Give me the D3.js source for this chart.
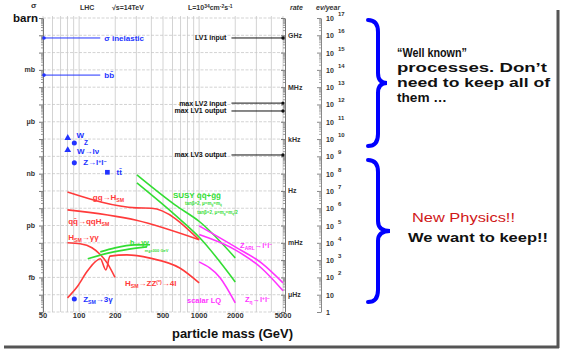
<!DOCTYPE html>
<html>
<head>
<meta charset="utf-8">
<script src="https://cdn.jsdelivr.net/npm/d3@7"></script>
<style>
  body { margin: 0; background: #fff; }
  svg text { font-family: "Liberation Sans", Arial, sans-serif; }
</style>
</head>
<body>
<svg id="chart" width="563" height="351"></svg>
<script>
// x: particle mass (GeV), y: cross-section (barn)
const massTicks = [50, 100, 200, 500, 1000, 2000, 5000];
const massGrid = [50, 60, 70, 80, 90, 100, 200, 300, 400, 500, 600, 700, 800, 900, 1000, 2000, 3000, 4000, 5000];
const sigmaUnits = ["barn", "mb", "μb", "nb", "pb", "fb"];
const sigmaUnitValues = [1, 1e-3, 1e-6, 1e-9, 1e-12, 1e-15];
const rateUnits = ["GHz", "MHz", "kHz", "Hz", "mHz", "μHz"];
const rateUnitValues = [1e9, 1e6, 1e3, 1, 1e-3, 1e-6];
const eventExponents = d3.range(0, 18);

// trigger levels, rate in Hz
const triggerNames = ["LV1 input", "max LV2 input", "max LV1 output", "max LV3 output"];
const triggerRates = [7e8, 1.2e5, 4.2e4, 1.2e2];

// inclusive cross-sections (blue guide lines)
const inclusiveNames = ["σ inelastic", "bb̄"];
const inclusiveSigma = [0.07, 5e-4];
const inclusiveMass = [50, 150];

// SM processes (blue markers)
const pointNames = ["W", "Z", "W→lν", "Z→l⁺l⁻", "tt̄", "Z_SM→3γ"];
const pointMass = [80.4, 91.2, 80.4, 91.2, 172, 91.2];
const pointSigma = [1.15e-7, 5.9e-8, 2.3e-8, 4.2e-9, 1.2e-9, 5.7e-17];
const pointKind = ["triangle", "circle", "triangle", "circle", "square", "circle"];

// curves: [mass, sigma]
const ggH = [[80, 8.7e-11], [300, 1.05e-11], [400, 1e-11], [1000, 1.5e-13]];
const qqH = [[80, 8e-12], [300, 2e-12], [1000, 1.5e-13]];
const hGamGam = [[80, 1e-13], [102, 8.8e-14], [128, 5.2e-14], [150, 2.1e-14], [171, 6.9e-15], [199, 1.0e-15]];
const hZZ = [[80, 6.6e-17], [96, 2.8e-16], [116, 2.1e-15], [136, 7.9e-15], [150, 1.2e-14], [167, 2.7e-15],
  [181, 1.7e-14], [250, 2e-14], [390, 1.3e-14], [690, 3.5e-15], [1000, 4.8e-16]];
const susyA = [[303, 8.4e-10], [629, 1.55e-11], [1016, 1.6e-12], [2000, 1.35e-14]];
const susyB = [[303, 2.9e-10], [629, 4.1e-12], [1016, 1.9e-13], [2000, 5.5e-16]];
const mssmGamGamA = [[118, 1.2e-14], [164, 2.3e-14], [241, 3.9e-14], [368, 5.8e-14]];
const mssmGamGamB = [[150, 3e-14], [199, 5.1e-14], [292, 7.6e-14], [390, 7.8e-14]];
const zARL = [[1000, 9.5e-13], [2000, 5.8e-14], [3300, 6.9e-15], [5000, 4.8e-16]];
const zEta = [[1000, 3e-13], [2000, 3.9e-14], [3300, 3.5e-15], [5000, 1.7e-16]];
const scalarLQ = [[1000, 7.9e-15], [1500, 9.3e-16], [2000, 3.4e-17]];

const blue = "#2233ff", red = "#ff3b3b", green = "#33dd33", magenta = "#ff33ff";

const svg = d3.select("#chart");

const x = d3.scaleLog().domain([50, 5000]).range([43, 283]);
const y = d3.scaleLog().domain([1e-17, 1]).range([312, 18]);
// rate (Hz) = sigma(barn) * 1e-24 cm2 * 1e34 cm-2 s-1 ; events/year with 1e7 s
const yHz = d3.scaleLog().domain([1e-7, 1e10]).range(y.range());
const yEv = d3.scaleLog().domain([1, 1e17]).range(y.range());

// frame shadow (slide picture)
svg.append("line").attr("x1", 558).attr("x2", 558).attr("y1", 10).attr("y2", 348)
  .attr("stroke", "#555").attr("stroke-width", 3);
svg.append("line").attr("x1", 4).attr("x2", 559).attr("y1", 347).attr("y2", 347)
  .attr("stroke", "#555").attr("stroke-width", 3);

// grid
const decades = d3.range(-17, 1).map((e) => Math.pow(10, e));
const minor = [];
for (const d of decades.slice(0, -1)) for (let k = 2; k < 10; k++) minor.push(d * k);

svg.append("g").selectAll("line").data(massGrid).join("line")
  .attr("x1", (d) => x(d)).attr("x2", (d) => x(d))
  .attr("y1", y(1) - 2).attr("y2", y(1e-17))
  .attr("stroke", "#c8c8c8").attr("stroke-width", 0.8);
svg.append("g").selectAll("line").data(decades).join("line")
  .attr("x1", x(50)).attr("x2", x(5000))
  .attr("y1", (d) => y(d)).attr("y2", (d) => y(d))
  .attr("stroke", "#c8c8c8").attr("stroke-width", 0.8).attr("stroke-dasharray", "3,1.5");

// left axis (cross-section)
svg.append("g").attr("transform", `translate(${x(50)},0)`)
  .call(d3.axisLeft(y).tickValues(decades).tickFormat("").tickSize(4).tickSizeOuter(0))
  .call((g) => g.selectAll("line, path").attr("stroke", "#777"));
svg.append("g").attr("transform", `translate(${x(50)},0)`)
  .call(d3.axisLeft(y).tickValues(minor).tickFormat("").tickSize(2))
  .call((g) => g.select(".domain").remove())
  .call((g) => g.selectAll("line").attr("stroke", "#999"));

// right plot edge (rate in Hz)
svg.append("g").attr("transform", `translate(${x(5000) + 2},0)`)
  .call(d3.axisLeft(yHz).tickValues(decades.map((d) => d * 1e10)).tickFormat("").tickSize(4).tickSizeOuter(0))
  .call((g) => g.selectAll("line, path").attr("stroke", "#777"));
svg.append("g").attr("transform", `translate(${x(5000) + 2},0)`)
  .call(d3.axisLeft(yHz).tickValues(minor.map((d) => d * 1e10)).tickFormat("").tickSize(2))
  .call((g) => g.select(".domain").remove())
  .call((g) => g.selectAll("line").attr("stroke", "#999"));

// events / year axis
const evAxisX = 321;
svg.append("g").attr("transform", `translate(${evAxisX},0)`)
  .call(d3.axisLeft(yEv).tickValues(eventExponents.map((e) => Math.pow(10, e))).tickFormat("").tickSize(4).tickSizeOuter(0))
  .call((g) => g.selectAll("line, path").attr("stroke", "#888"));
svg.append("g").attr("transform", `translate(${evAxisX},0)`)
  .call(d3.axisLeft(yEv).tickValues(minor.map((d) => d * 1e17)).tickFormat("").tickSize(2))
  .call((g) => g.select(".domain").remove())
  .call((g) => g.selectAll("line").attr("stroke", "#aaa"));

const evLabels = svg.append("g").attr("font-size", "7px").attr("font-weight", "bold").attr("fill", "#333");
evLabels.selectAll(".base").data(eventExponents).join("text")
  .attr("x", evAxisX + 5).attr("y", (e) => yEv(Math.pow(10, e)) + 3)
  .text((e) => (e === 0 ? "1" : "10"));
evLabels.selectAll(".exp").data(eventExponents.filter((e) => e > 1)).join("text")
  .attr("x", evAxisX + 17).attr("y", (e) => yEv(Math.pow(10, e)) - 2)
  .attr("font-size", "6px")
  .text((e) => e);

// x tick labels
svg.append("g").selectAll("text").data(massTicks).join("text")
  .attr("x", (d) => x(d)).attr("y", 318)
  .attr("text-anchor", "middle").attr("font-size", "7.5px").attr("font-weight", "bold").attr("fill", "#333")
  .text((d) => d);

// unit labels
svg.append("g").selectAll("text").data(sigmaUnits).join("text")
  .attr("x", (d, i) => (i === 0 ? 38 : 35)).attr("y", (d, i) => y(sigmaUnitValues[i]) + (i === 0 ? 4 : 2.5))
  .attr("text-anchor", "end")
  .attr("font-size", (d, i) => (i === 0 ? "11.5px" : "7px"))
  .attr("font-weight", "bold").attr("fill", (d, i) => (i === 0 ? "#111" : "#333"))
  .text((d) => d);
svg.append("g").selectAll("text").data(rateUnits).join("text")
  .attr("x", x(5000) + 5).attr("y", (d, i) => yHz(rateUnitValues[i]) + 2.5)
  .attr("font-size", "7px").attr("font-weight", "bold").attr("fill", "#333")
  .text((d) => d);

// header
const head = svg.append("g").attr("font-size", "7px").attr("font-weight", "bold").attr("fill", "#333");
head.append("text").attr("x", 31).attr("y", 8).attr("font-size", "8px").text("σ");
head.append("text").attr("x", 80).attr("y", 10).text("LHC");
head.append("text").attr("x", 112).attr("y", 10).text("√s=14TeV");
const lumi = head.append("text").attr("x", 188).attr("y", 10);
lumi.append("tspan").text("L=10");
lumi.append("tspan").attr("baseline-shift", "35%").attr("font-size", "5px").text("34");
lumi.append("tspan").text("cm");
lumi.append("tspan").attr("baseline-shift", "35%").attr("font-size", "5px").text("-2");
lumi.append("tspan").text("s");
lumi.append("tspan").attr("baseline-shift", "35%").attr("font-size", "5px").text("-1");
head.append("text").attr("x", 290).attr("y", 10).attr("font-style", "italic").text("rate");
head.append("text").attr("x", 316).attr("y", 10).attr("font-style", "italic").text("ev/year");

// rich label helper: parts = [text, "sub"|"sup"|undefined]
function label(g, m, s, parts, color, size = 8) {
  const t = g.append("text").attr("x", x(m)).attr("y", y(s) + size * 0.35)
    .attr("fill", color).attr("font-size", `${size}px`).attr("font-weight", "bold");
  for (const [str, kind] of parts) {
    const ts = t.append("tspan").text(str);
    if (kind === "sub") ts.attr("baseline-shift", "-30%").attr("font-size", `${size * 0.65}px`);
    if (kind === "sup") ts.attr("baseline-shift", "40%").attr("font-size", `${size * 0.65}px`);
  }
  return t;
}

// inclusive lines
const incl = svg.append("g");
incl.selectAll("line").data(inclusiveSigma).join("line")
  .attr("x1", x(inclusiveMass[0])).attr("x2", x(inclusiveMass[1]))
  .attr("y1", (d) => y(d)).attr("y2", (d) => y(d))
  .attr("stroke", blue).attr("stroke-width", 1);
incl.selectAll("circle").data(inclusiveSigma).join("circle")
  .attr("cx", x(inclusiveMass[0]) + 1).attr("cy", (d) => y(d)).attr("r", 1.8).attr("fill", blue);
incl.selectAll("text").data(inclusiveNames).join("text")
  .attr("x", x(inclusiveMass[1]) + 4).attr("y", (d, i) => y(inclusiveSigma[i]) + 3)
  .attr("fill", blue).attr("font-size", "8px").attr("font-weight", "bold")
  .text((d) => d);

// trigger levels
const trig = svg.append("g");
trig.selectAll("line").data(triggerRates).join("line")
  .attr("x1", x(1860)).attr("x2", x(5000))
  .attr("y1", (d) => yHz(d)).attr("y2", (d) => yHz(d))
  .attr("stroke", "#111").attr("stroke-width", 1);
trig.selectAll("circle").data(triggerRates).join("circle")
  .attr("cx", x(5000)).attr("cy", (d) => yHz(d)).attr("r", 1.7).attr("fill", "#111");
trig.selectAll("text").data(triggerNames).join("text")
  .attr("x", x(1860) - 5).attr("y", (d, i) => yHz(triggerRates[i]) + 2.5)
  .attr("text-anchor", "end").attr("font-size", "7px").attr("font-weight", "bold").attr("fill", "#111")
  .text((d) => d);

// curves
const line = d3.line().x((d) => x(d[0])).y((d) => y(d[1])).curve(d3.curveMonotoneX);
const curves = [
  [ggH, red], [qqH, red], [hGamGam, red], [hZZ, red],
  [susyA, green], [susyB, green], [mssmGamGamA, green], [mssmGamGamB, green],
  [zARL, magenta], [zEta, magenta], [scalarLQ, magenta],
];
svg.append("g").selectAll("path").data(curves).join("path")
  .attr("d", (d) => line(d[0]))
  .attr("fill", "none").attr("stroke", (d) => d[1]).attr("stroke-width", 1.6);

// SM markers
const symbolType = { triangle: d3.symbolTriangle, circle: d3.symbolCircle, square: d3.symbolSquare };
svg.append("g").selectAll("path").data(pointMass).join("path")
  .attr("transform", (d, i) => `translate(${x(d)},${y(pointSigma[i])})`)
  .attr("d", (d, i) => d3.symbol(symbolType[pointKind[i]], pointKind[i] === "square" ? 22 : 20)())
  .attr("fill", blue);

// annotations
const ann = svg.append("g");
label(ann, 95, 1.6e-7, [["W"]], blue, 8);
label(ann, 110, 6e-8, [["Z"]], blue, 6.5);
label(ann, 96, 2.1e-8, [["W→lν"]], blue, 8);
label(ann, 108, 4.7e-9, [["Z→l"], ["+", "sup"], ["l"], ["−", "sup"]], blue, 8);
label(ann, 205, 1.26e-9, [["tt̄"]], blue, 8);
label(ann, 108, 5.6e-17, [["Z"], ["SM", "sub"], ["→3γ"]], blue, 8);
label(ann, 130, 4.5e-11, [["gg→H"], ["SM", "sub"]], red, 8);
label(ann, 81, 1.8e-12, [["qq̄→qqH"], ["SM", "sub"]], red, 8);
label(ann, 81, 2.2e-13, [["H"], ["SM", "sub"], ["→γγ"]], red, 8);
label(ann, 241, 4.8e-16, [["H"], ["SM", "sub"], ["→ZZ"], ["(*)", "sup"], ["→4l"]], red, 8);
label(ann, 265, 9.8e-14, [["h→γγ"]], green, 7);
label(ann, 353, 3.4e-14, [["m"], ["A", "sub"], ["=300 GeV"]], green, 4);
label(ann, 605, 5.9e-11, [["SUSY q̃q̃+g̃g̃"]], green, 8);
label(ann, 762, 1.8e-11, [["tanβ=2, μ=m"], ["g̃", "sub"], ["=m"], ["q̃", "sub"]], green, 4.5);
label(ann, 965, 6e-12, [["tanβ=2, μ=m"], ["g̃", "sub"], ["=m"], ["q̃", "sub"], ["/2"]], green, 4.5);
label(ann, 2195, 7.4e-14, [["Z"], ["ARL", "sub"], ["→l"], ["+", "sup"], ["l"], ["−", "sup"]], magenta, 7.5);
label(ann, 2410, 5.6e-17, [["Z"], ["η", "sub"], ["→l"], ["+", "sup"], ["l"], ["−", "sup"]], magenta, 7.5);
label(ann, 792, 5e-17, [["scalar LQ"]], magenta, 7.5);

// x title
svg.append("text").attr("x", 172).attr("y", 338)
  .attr("font-family", "DejaVu Sans").attr("font-size", "13px").attr("font-weight", "bold").attr("fill", "#111")
  .attr("textLength", 121).attr("lengthAdjust", "spacingAndGlyphs")
  .text("particle mass (GeV)");

// braces
function brace(top, bottom, tip) {
  const mid = (top + bottom) / 2;
  const sx = 378;
  return `M368,${top} Q${sx},${top} ${sx},${top + 12} L${sx},${mid - 10} Q${sx},${mid} ${tip},${mid}` +
    ` Q${sx},${mid} ${sx},${mid + 10} L${sx},${bottom - 12} Q${sx},${bottom} 368,${bottom}`;
}
svg.append("path").attr("d", brace(20, 146, 387)).attr("fill", "none")
  .attr("stroke", "#0000ff").attr("stroke-width", 4).attr("stroke-linecap", "round");
svg.append("path").attr("d", brace(160, 302, 390)).attr("fill", "none")
  .attr("stroke", "#0000ff").attr("stroke-width", 4).attr("stroke-linecap", "round");

// side notes
const noteLines = [["“Well known”", 70], ["processes. Don’t", 150], ["need to keep all of", 153], ["them …", 50]];
svg.append("g").selectAll("text").data(noteLines).join("text")
  .attr("x", 397).attr("y", (d, i) => 57 + i * 15)
  .attr("font-family", "DejaVu Sans").attr("font-size", "13px").attr("font-weight", "bold").attr("fill", "#111")
  .attr("textLength", (d) => d[1]).attr("lengthAdjust", "spacingAndGlyphs")
  .text((d) => d[0]);
svg.append("text").attr("x", 412).attr("y", 222)
  .attr("font-family", "DejaVu Sans").attr("font-size", "13px").attr("fill", "#d01818")
  .attr("textLength", 103).attr("lengthAdjust", "spacingAndGlyphs")
  .text("New Physics!!");
svg.append("text").attr("x", 408).attr("y", 242)
  .attr("font-family", "DejaVu Sans").attr("font-size", "13px").attr("font-weight", "bold").attr("fill", "#111")
  .attr("textLength", 140).attr("lengthAdjust", "spacingAndGlyphs")
  .text("We want to keep!!");
</script>
</body>
</html>
